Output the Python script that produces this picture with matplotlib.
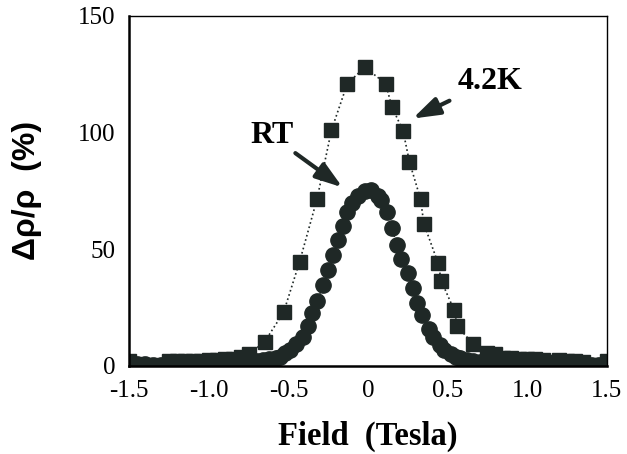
import numpy as np
import matplotlib.pyplot as plt

# 1. data
field_42k = [-1.5, -1.45, -1.4, -1.35, -1.3, -1.25, -1.2, -1.15, -1.1, -1.05,
             -1.0, -0.95, -0.9, -0.85, -0.8, -0.75, -0.65, -0.53,
             -0.43, -0.32, -0.23, -0.13, -0.02, 0.11, 0.15, 0.22, 0.26, 0.33,
             0.35, 0.44, 0.46, 0.54, 0.56, 0.66, 0.75, 0.8, 0.85, 0.9,
             0.95, 1.0, 1.05, 1.1, 1.15, 1.2, 1.25, 1.3, 1.35, 1.4,
             1.45, 1.5]
mr_42k = [2, 1, 0.5, 0, 0.5, 2, 2, 2, 2, 2,
          2.5, 2.5, 3, 3, 4, 5, 10.3, 23,
          44.6, 71.6, 101, 121, 128, 121, 111, 100.7, 87.4, 71.4,
          61, 44, 36.4, 24, 17, 9.4, 5.6, 5, 3.5, 3.5,
          3, 3, 3, 2.5, 1.5, 2.5, 2, 2, 1.5, 0.5,
          0.5, 2]

field_rt = [-1.5, -1.45, -1.4, -1.35, -1.3, -1.25, -1.2, -1.15, -1.1, -1.05,
            -1.0, -0.95, -0.9, -0.85, -0.8, -0.75, -0.7, -0.66, -0.62, -0.58,
            -0.55, -0.52, -0.49, -0.45, -0.41, -0.38, -0.35, -0.32, -0.28, -0.25,
            -0.22, -0.19, -0.16, -0.13, -0.1, -0.06, -0.02, 0.02, 0.06, 0.08,
            0.12, 0.15, 0.18, 0.21, 0.25, 0.28, 0.31, 0.34, 0.38, 0.41,
            0.45, 0.48, 0.52, 0.55, 0.58, 0.62, 0.66, 0.7, 0.75, 0.8,
            0.85, 0.9, 0.95, 1.0, 1.05, 1.1, 1.15, 1.2, 1.25, 1.3,
            1.35, 1.4, 1.45, 1.5]
mr_rt = [1, 1, 1, 0.5, 0.5, 1, 1, 1, 1, 1,
         1, 1, 1.2, 1.2, 1.5, 1.5, 2, 2.5, 3, 3.5,
         4, 5.5, 7, 9.5, 12.4, 17, 22.7, 28, 34.7, 41,
         47.6, 54, 60, 66, 70, 73, 75, 75.4, 73, 71,
         66, 59, 52, 46, 40, 33.4, 27, 21.9, 16, 12.4,
         9, 7, 5, 4, 3.4, 2.5, 2, 1.5, 1.5, 1.2,
         1, 1, 1, 1, 1, 1, 1, 1, 1, 1,
         1, 0.5, 0.5, 1]

xticks = [-1.5, -1.0, -0.5, 0, 0.5, 1.0, 1.5]
xtick_labels = ['-1.5', '-1.0', '-0.5', '0', '0.5', '1.0', '1.5']
yticks = [0, 50, 100, 150]

ink = '#1f2826'

# 2. plot
fig = plt.figure(figsize=(6.27, 4.54), dpi=100)
ax = fig.add_axes([0.206, 0.194, 0.762, 0.771])

ax.plot(field_42k, mr_42k, linestyle=':', color=ink, linewidth=1.2,
        marker='s', markersize=9.5, markerfacecolor=ink, markeredgecolor=ink)
ax.plot(field_rt, mr_rt, linestyle=':', color=ink, linewidth=1.0,
        marker='o', markersize=11, markerfacecolor=ink, markeredgecolor=ink)

ax.set_xlim(-1.5, 1.5)
ax.set_ylim(0, 150)

serif = 'Liberation Serif'
ax.set_xticks(xticks)
ax.set_xticklabels(xtick_labels, family=serif, fontsize=18)
ax.set_yticks(yticks)
ax.set_yticklabels([str(v) for v in yticks], family=serif, fontsize=18)
ax.tick_params(length=0, pad=10)

ax.set_xlabel('Field  (Tesla)', family=serif, fontsize=23.5, fontweight='bold', labelpad=14)
ax.set_ylabel('Δρ/ρ  (%)', family='Liberation Sans', fontsize=23, fontweight='bold', labelpad=26)

# spines
for side in ['top', 'right']:
    ax.spines[side].set_linewidth(1.0)
for side in ['left', 'bottom']:
    ax.spines[side].set_linewidth(1.8)

# annotations
arrow = dict(arrowstyle='-|>,head_length=0.9,head_width=0.3', color=ink, lw=3,
             mutation_scale=18, shrinkA=0, shrinkB=0)
ax.annotate('RT', xy=(-0.16, 76.5), xytext=(-0.47, 98.6),
            ha='right', va='center', family=serif, fontsize=23, fontweight='bold',
            arrowprops=arrow)
ax.annotate('4.2K', xy=(0.28, 106), xytext=(0.56, 122),
            ha='left', va='center', family=serif, fontsize=23, fontweight='bold',
            arrowprops=dict(arrow, shrinkA=4))

# 3. save
fig.savefig('out.png', dpi=100)
